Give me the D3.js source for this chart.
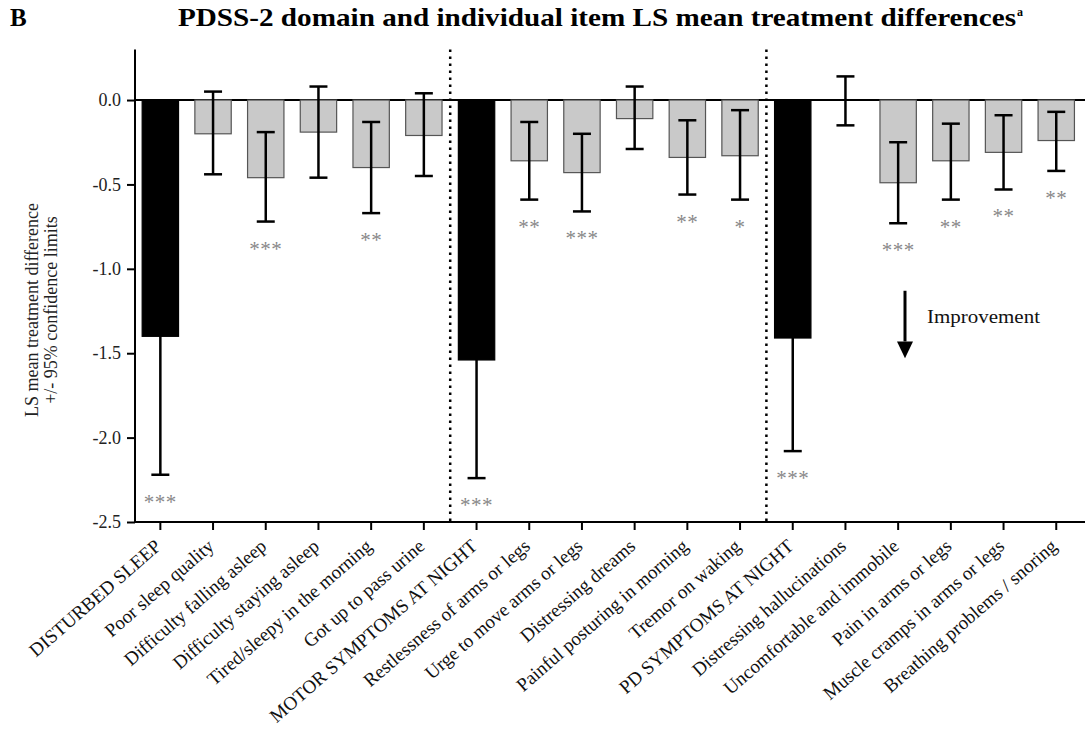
<!DOCTYPE html>
<html><head><meta charset="utf-8">
<script src="https://cdn.jsdelivr.net/npm/d3@7"></script>
<style>
html,body{margin:0;padding:0;background:#fff;}
svg{display:block;font-family:"Liberation Serif","Times New Roman",serif;}
</style></head>
<body><svg id="chart" width="1087" height="738"></svg>
<script>
const categories = ["DISTURBED SLEEP","Poor sleep quality","Difficulty falling asleep","Difficulty staying asleep","Tired/sleepy in the morning","Got up to pass urine","MOTOR SYMPTOMS AT NIGHT","Restlessness of arms or legs","Urge to move arms or legs","Distressing dreams","Painful posturing in morning","Tremor on waking","PD SYMPTOMS AT NIGHT","Distressing hallucinations","Uncomfortable and immobile","Pain in arms or legs","Muscle cramps in arms or legs","Breathing problems / snoring"];
const means = [-1.40,-0.20,-0.46,-0.19,-0.40,-0.21,-1.54,-0.36,-0.43,-0.11,-0.34,-0.33,-1.41,0.00,-0.49,-0.36,-0.31,-0.24];
const lower = [-2.22,-0.44,-0.72,-0.46,-0.67,-0.45,-2.24,-0.59,-0.66,-0.29,-0.56,-0.59,-2.08,-0.15,-0.73,-0.59,-0.53,-0.42];
const upper = [-0.58,0.05,-0.19,0.08,-0.13,0.04,-0.84,-0.13,-0.20,0.08,-0.12,-0.06,-0.74,0.14,-0.25,-0.14,-0.09,-0.07];
const isDomain = [1,0,0,0,0,0,1,0,0,0,0,0,1,0,0,0,0,0];
const stars = ["***","","***","","**","","***","**","***","","**","*","***","","***","**","**","**"];
const yTicks = [0.0,-0.5,-1.0,-1.5,-2.0,-2.5];
const dividerAfter = ["Got up to pass urine","Tremor on waking"];

const svg = d3.select("#chart");
const x = d3.scaleBand().domain(categories).range([134, 1082.6]).paddingInner(0.31).paddingOuter(0.155);
const y = d3.scaleLinear().domain([-2.5, 0.3]).range([522, 49.4]);

// Title
svg.append("text").attr("x", 10).attr("y", 26).attr("font-size", 25).attr("font-weight", "bold").text("B");
svg.append("text").attr("x", 178).attr("y", 26).attr("font-size", 26).attr("font-weight", "bold")
  .attr("textLength", 838).attr("lengthAdjust", "spacingAndGlyphs")
  .text("PDSS-2 domain and individual item LS mean treatment differences");
svg.append("text").attr("x", 1017).attr("y", 16).attr("font-size", 12).attr("font-weight", "bold").text("a");

// Y axis
const yAxis = svg.append("g").attr("transform", "translate(135,0)")
  .call(d3.axisLeft(y).tickValues(yTicks).tickFormat(d => d.toFixed(1)).tickSize(8).tickPadding(6));
yAxis.select(".domain").attr("stroke", "#000").attr("stroke-width", 2).attr("d", `M0,${y(0.3)}V${y(-2.5)}`);
yAxis.selectAll(".tick line").attr("stroke", "#000").attr("stroke-width", 2);
yAxis.selectAll(".tick text").attr("font-size", 18).attr("fill", "#222").attr("font-family", "Liberation Serif");

// Y label
const yl = svg.append("text").attr("transform", `translate(38,310) rotate(-90)`).attr("text-anchor", "middle")
  .attr("font-size", 18).attr("fill", "#222");
yl.append("tspan").attr("x", 0).attr("dy", 0).text("LS mean treatment difference");
yl.append("tspan").attr("x", 0).attr("dy", 19).text("+/- 95% confidence limits");

// X axis
const xAxis = svg.append("g").attr("transform", `translate(0,${y(-2.5)})`)
  .call(d3.axisBottom(x).tickSize(8).tickPadding(4));
xAxis.select(".domain").attr("stroke", "#000").attr("stroke-width", 2).attr("d", `M134,0H1085`);
xAxis.selectAll(".tick line").attr("stroke", "#000").attr("stroke-width", 2);
xAxis.selectAll(".tick text").attr("font-size", 19).attr("fill", "#111").attr("font-family", "Liberation Serif")
  .attr("text-anchor", "end").attr("dy", 0).attr("y", 0)
  .attr("transform", "translate(2,26) rotate(-41)");

// zero line
svg.append("line").attr("x1", 135).attr("x2", 1085).attr("y1", y(0)).attr("y2", y(0))
  .attr("stroke", "#000").attr("stroke-width", 2);

// Dividers
dividerAfter.forEach(c => {
  const i = categories.indexOf(c);
  const xd = (x(categories[i]) + x.bandwidth() + x(categories[i+1])) / 2;
  svg.append("line").attr("x1", xd).attr("x2", xd).attr("y1", y(0.3)).attr("y2", y(-2.5))
    .attr("stroke", "#000").attr("stroke-width", 2.5).attr("stroke-dasharray", "2.5,4.5");
});

const data = categories.map((c, i) => ({c, m: means[i], lo: lower[i], hi: upper[i], dom: isDomain[i], s: stars[i]}));

// Bars
svg.append("g").selectAll("rect").data(data).join("rect")
  .attr("x", d => x(d.c)).attr("width", x.bandwidth())
  .attr("y", d => y(Math.max(0, d.m))).attr("height", d => Math.abs(y(d.m) - y(0)))
  .attr("fill", d => d.dom ? "#000" : "#c9c9c9")
  .attr("stroke", d => d.dom ? "#000" : "#555").attr("stroke-width", 1.2);

// Error bars
const eb = svg.append("g").selectAll("g").data(data).join("g")
  .attr("transform", d => `translate(${x(d.c) + x.bandwidth()/2},0)`);
eb.append("line").attr("y1", d => y(d.hi)).attr("y2", d => y(d.lo)).attr("stroke", "#000").attr("stroke-width", 2.5);
eb.append("line").attr("x1", -9).attr("x2", 9).attr("y1", d => y(d.hi)).attr("y2", d => y(d.hi)).attr("stroke", "#000").attr("stroke-width", 2.5);
eb.append("line").attr("x1", -9).attr("x2", 9).attr("y1", d => y(d.lo)).attr("y2", d => y(d.lo)).attr("stroke", "#000").attr("stroke-width", 2.5);

// Stars
svg.append("g").selectAll("text").data(data.filter(d => d.s)).join("text")
  .attr("x", d => x(d.c) + x.bandwidth()/2).attr("y", d => y(d.lo) + 34)
  .attr("text-anchor", "middle").attr("font-size", 21).attr("fill", "#888").attr("letter-spacing", 0.5)
  .text(d => d.s);

// Improvement arrow
const ax = 905;
svg.append("line").attr("x1", ax).attr("x2", ax).attr("y1", y(-1.13)).attr("y2", y(-1.43)).attr("stroke", "#000").attr("stroke-width", 3);
svg.append("path").attr("d", `M${ax-8},${y(-1.43)}L${ax+8},${y(-1.43)}L${ax},${y(-1.53)}Z`).attr("fill", "#000");
svg.append("text").attr("x", 927).attr("y", 323).attr("font-size", 19).attr("fill", "#111")
  .attr("textLength", 113).attr("lengthAdjust", "spacingAndGlyphs").text("Improvement");
</script>
</body></html>
